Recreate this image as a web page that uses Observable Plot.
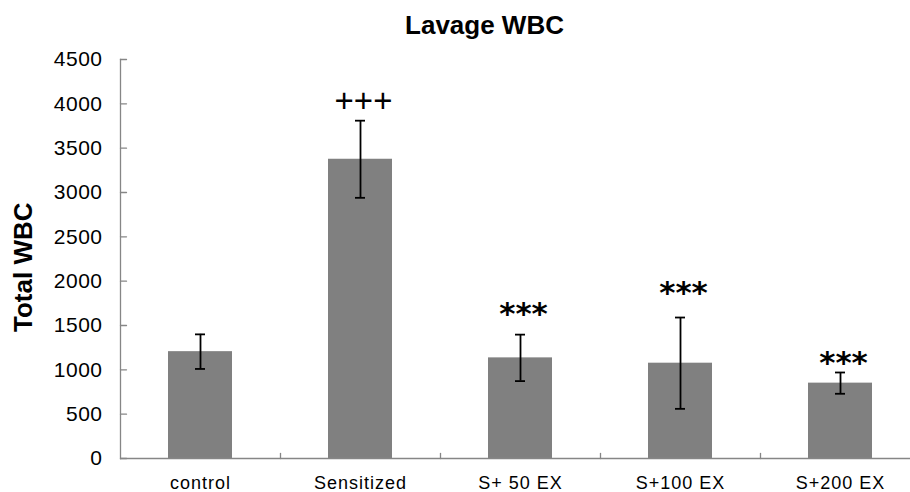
<!DOCTYPE html>
<html>
<head>
<meta charset="utf-8">
<script src="https://cdn.jsdelivr.net/npm/d3@7"></script>
<script src="https://cdn.jsdelivr.net/npm/@observablehq/plot@0.6"></script>
<style>
  body { margin: 0; background: #fff; }
  #chart svg [aria-label="x-axis tick label"] text { letter-spacing: 1px; }
  #chart svg [aria-label="y-axis tick label"] text { letter-spacing: 0.5px; }
</style>
</head>
<body>
<div id="chart"></div>
<script>
const categories = ["control", "Sensitized", "S+ 50 EX", "S+100 EX", "S+200 EX"];
const means = [1205, 3375, 1135, 1075, 850];
const errors = [195, 435, 262, 515, 120];
const signs = ["", "+++", "***", "***", "***"];
const signLevels = [null, 4032, 1660, 1895, 1105];
const yTicks = [0, 500, 1000, 1500, 2000, 2500, 3000, 3500, 4000, 4500];
const title = "Lavage WBC";
const yLabel = "Total WBC";

const data = categories.map((c, i) => ({cat: c, mean: means[i], err: errors[i], sign: signs[i], level: signLevels[i]}));
const plus = data.filter(d => d.sign === "+++");
const stars = data.filter(d => d.sign === "***");

const axisGray = "#868686";
const line = {draw(ctx, l) { ctx.moveTo(0, 0); ctx.lineTo(0, -l); }};

const chart = Plot.plot({
  width: 910,
  height: 492,
  marginTop: 59,
  marginBottom: 34,
  marginLeft: 120,
  marginRight: 0,
  style: {fontFamily: "'Liberation Sans', Arial, sans-serif", background: "#fff", color: "#000"},
  x: {domain: categories, range: [120, 920], paddingInner: 0.6, paddingOuter: 0.3},
  y: {domain: [0, 4500]},
  marks: [
    Plot.barY(data, {x: "cat", y: "mean", fill: "#808080"}),
    Plot.frame({anchor: "left", stroke: axisGray, strokeWidth: 1.3}),
    Plot.ruleY([0], {stroke: axisGray, strokeWidth: 1.3}),
    Plot.vector(yTicks, {y: d => d, frameAnchor: "left", length: 6, rotate: 90, anchor: "start", shape: line, stroke: axisGray, strokeWidth: 1.3}),
    Plot.vector(categories.slice(1), {x: d => d, frameAnchor: "bottom", dx: -80, length: 5, anchor: "start", shape: line, stroke: axisGray, strokeWidth: 1.3}),
    Plot.ruleX(data, {x: "cat", y1: d => d.mean - d.err, y2: d => d.mean + d.err, stroke: "#000", strokeWidth: 1.8}),
    Plot.tickY(data, {x: "cat", y: d => d.mean + d.err, insetLeft: 27, insetRight: 27, stroke: "#000", strokeWidth: 1.8}),
    Plot.tickY(data, {x: "cat", y: d => d.mean - d.err, insetLeft: 27, insetRight: 27, stroke: "#000", strokeWidth: 1.8}),
    Plot.axisY(yTicks, {tickSize: 0, tickPadding: 18, fontSize: 21, tickFormat: d => String(d), label: null}),
    Plot.axisX({tickSize: 0, tickPadding: 18, fontSize: 18, label: null}),
    Plot.text(plus, {x: "cat", y: "level", text: "sign", fontSize: 33, dx: 3, fontFamily: "'Liberation Sans', Arial, sans-serif"}),
    Plot.text(stars, {x: "cat", y: "level", text: "sign", fontSize: 31, dx: 3, dy: 3, fontWeight: "bold", fontFamily: "'DejaVu Sans', sans-serif"}),
    Plot.text([title], {text: d => d, frameAnchor: "top", dx: -31, dy: -44, fontSize: 26, fontWeight: "bold"}),
    Plot.text([yLabel], {text: d => d, frameAnchor: "left", rotate: -90, dx: -97, dy: 73, fontSize: 26, fontWeight: "bold"})
  ]
});
document.getElementById("chart").appendChild(chart);
</script>
</body>
</html>
